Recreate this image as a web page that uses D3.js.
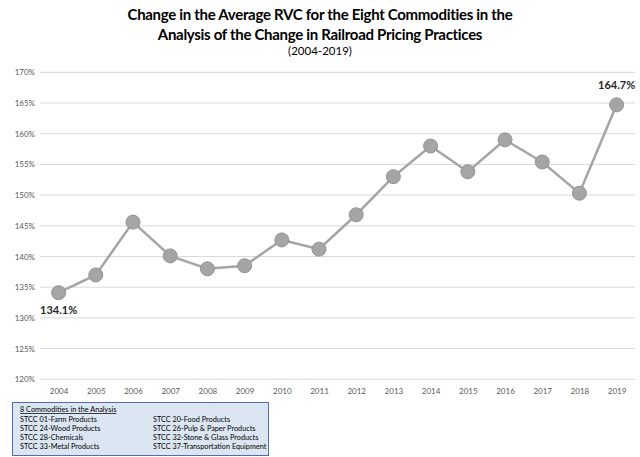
<!DOCTYPE html>
<html><head><meta charset="utf-8">
<script src="https://cdn.jsdelivr.net/npm/d3@7"></script>
<style>body{margin:0;background:#fff}</style>
</head><body>
<svg id="c" width="640" height="457"></svg>
<script>
const years = ["2004","2005","2006","2007","2008","2009","2010","2011","2012","2013","2014","2015","2016","2017","2018","2019"];
const rvc = [134.1,137.0,145.6,140.1,138.0,138.5,142.7,141.2,146.8,153.0,158.0,153.8,159.0,155.4,150.3,164.7];
const yTicks = [120,125,130,135,140,145,150,155,160,165,170];
const titleLines = ["Change in the Average RVC for the Eight Commodities in the","Analysis of the Change in Railroad Pricing Practices"];
const subtitle = "(2004-2019)";
const legendTitle = "8 Commodities in the Analysis";
const legendCol1 = ["STCC 01-Farm Products","STCC 24-Wood Products","STCC 28-Chemicals","STCC 33-Metal Products"];
const legendCol2 = ["STCC 20-Food Products","STCC 26-Pulp & Paper Products","STCC 32-Stone & Glass Products","STCC 37-Transportation Equipment"];

const svg = d3.select("#c");
const font = "Lato, 'Open Sans', sans-serif";
const x = d3.scalePoint().domain(years).range([58.6, 616.6]);
const y = d3.scaleLinear().domain([120,170]).range([379.3, 72.3]);

// title
svg.selectAll(".t").data(titleLines).enter().append("text")
  .attr("x", 320).attr("y", (d,i)=>20+i*19.5).attr("text-anchor","middle")
  .attr("font-family", font).attr("font-weight","bold").attr("font-size",15).attr("letter-spacing",-0.3)
  .attr("fill","#000").text(d=>d);
svg.append("text").attr("x",320).attr("y",55).attr("text-anchor","middle")
  .attr("font-family",font).attr("font-size",11.5).attr("fill","#000").text(subtitle);

// grid
svg.append("g").selectAll("line").data(yTicks).enter().append("line")
  .attr("x1",40).attr("x2",635).attr("y1",d=>y(d)).attr("y2",d=>y(d))
  .attr("stroke","#d9d9d9").attr("stroke-width",1);

// y axis labels
const yAxis = d3.axisLeft(y).tickValues(yTicks).tickFormat(d=>d+"%").tickSize(0).tickPadding(0);
const ga = svg.append("g").attr("transform","translate(35,0)").call(yAxis);
ga.select(".domain").remove();
ga.selectAll("text").attr("font-family",font).attr("font-size",8).attr("fill","#595959");

const xAxis = d3.axisBottom(x).tickSize(0).tickPadding(0);
const gx = svg.append("g").attr("transform","translate(0,388)").call(xAxis);
gx.select(".domain").remove();
gx.selectAll("text").attr("font-family",font).attr("font-size",8).attr("fill","#595959");

// line
const line = d3.line().x((d,i)=>x(years[i])).y(d=>y(d));
svg.append("path").datum(rvc).attr("d",line).attr("fill","none").attr("stroke","#a5a5a5").attr("stroke-width",2.5);
svg.selectAll(".pt").data(rvc).enter().append("circle")
  .attr("cx",(d,i)=>x(years[i])).attr("cy",d=>y(d)).attr("r",7)
  .attr("fill","#a5a5a5").attr("stroke","#939393").attr("stroke-width",1);

// data labels
svg.append("text").attr("x",x(years[0])).attr("y",y(rvc[0])+21).attr("text-anchor","middle")
  .attr("font-family",font).attr("font-weight","bold").attr("font-size",11).attr("fill","#262626").text(rvc[0].toFixed(1)+"%");
svg.append("text").attr("x",x(years[15])).attr("y",y(rvc[15])-16).attr("text-anchor","middle")
  .attr("font-family",font).attr("font-weight","bold").attr("font-size",11).attr("fill","#262626").text(rvc[15].toFixed(1)+"%");

// legend box
svg.append("rect").attr("x",12.5).attr("y",402.5).attr("width",256).attr("height",53)
  .attr("fill","#dce6f2").attr("stroke","#4f6fa8").attr("stroke-width",1);
svg.append("text").attr("x",20).attr("y",412).attr("font-family",font).attr("font-size",7.3)
  .attr("text-decoration","underline").attr("fill","#000").text(legendTitle);
svg.selectAll(".l1").data(legendCol1).enter().append("text")
  .attr("x",20).attr("y",(d,i)=>421.5+i*9.3).attr("font-family",font).attr("font-size",7.3).attr("fill","#000").text(d=>d);
svg.selectAll(".l2").data(legendCol2).enter().append("text")
  .attr("x",153).attr("y",(d,i)=>421.5+i*9.3).attr("font-family",font).attr("font-size",7.3).attr("fill","#000").text(d=>d);
</script>
</body></html>
